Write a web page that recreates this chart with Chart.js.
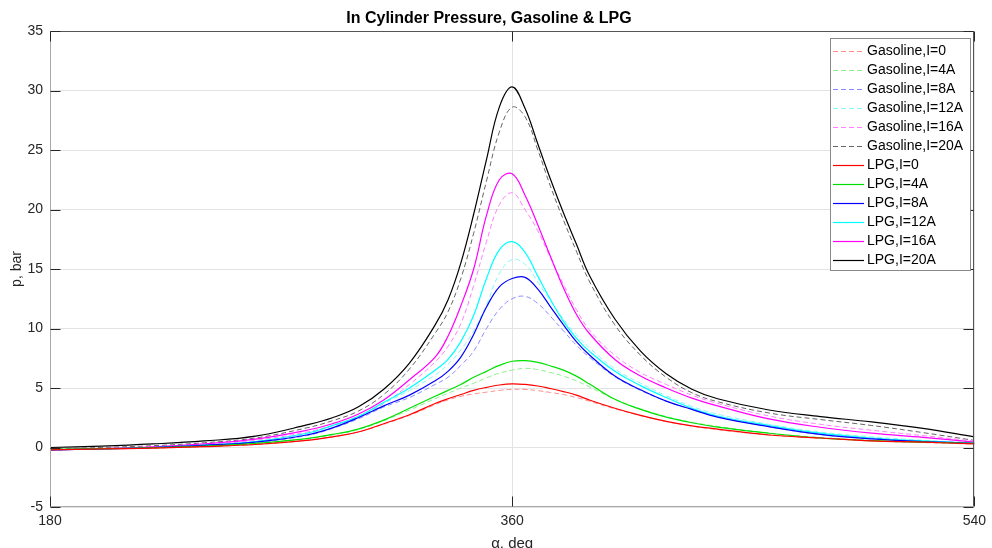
<!DOCTYPE html>
<html><head><meta charset="utf-8">
<script src="https://cdn.jsdelivr.net/npm/chart.js@4/dist/chart.umd.min.js"></script>
<style>html,body{margin:0;padding:0;background:#fff}#wrap{width:992px;height:548px;position:relative}</style>
</head><body><div id="wrap"><canvas id="c"></canvas></div>
<script>
const chartTitle = 'In Cylinder Pressure, Gasoline & LPG';
const xTitle = 'α, deg';
const yTitle = 'p, bar';
const angles = [180,200,220,240,260,280,290,300,310,320,330,335,340,345,350,355,360,365,370,375,380,385,390,400,410,420,430,440,460,480,500,520,540];
const xTicks = [180, 360, 540];
const yTicksRange = [-5, 35, 5];

const gas0  = [-0.2,-0.12,-0.05,0.08,0.25,0.6,0.9,1.3,1.95,2.7,3.6,4.0,4.3,4.5,4.65,4.8,4.88,4.88,4.78,4.62,4.45,4.2,3.9,3.25,2.68,2.18,1.8,1.5,1.05,0.8,0.55,0.42,0.28];
const gas4  = [-0.15,-0.1,-0.02,0.1,0.3,0.72,1.05,1.5,2.25,3.15,4.1,4.55,5.0,5.4,5.85,6.25,6.5,6.65,6.55,6.3,6.0,5.6,5.1,4.05,3.25,2.6,2.12,1.78,1.2,0.85,0.6,0.45,0.3];
const gas8  = [-0.2,-0.12,0.0,0.15,0.42,1.0,1.6,2.4,3.4,4.2,5.3,5.9,6.9,8.1,10.0,11.6,12.5,12.7,12.1,11.0,9.8,8.6,7.6,5.95,4.8,3.9,3.2,2.6,1.75,1.1,0.75,0.52,0.35];
const gas12 = [-0.2,-0.12,0.0,0.2,0.5,1.15,1.8,2.55,3.7,4.8,6.1,7.0,8.2,9.8,12.0,14.6,15.8,15.4,13.9,12.3,10.8,9.5,8.4,6.6,5.4,4.35,3.45,2.8,1.95,1.3,0.9,0.6,0.4];
const gas16 = [-0.2,-0.1,0.05,0.25,0.6,1.3,1.85,2.6,3.7,5.3,7.2,8.5,10.4,13.6,17.3,20.4,21.4,20.0,18.2,15.9,13.7,11.6,9.9,7.75,6.3,5.3,4.4,3.7,2.65,1.95,1.45,1.0,0.55];
const gas20 = [-0.15,0.0,0.15,0.4,0.8,1.65,2.25,3.05,4.45,6.6,9.6,11.4,14.2,18.0,22.4,26.5,28.6,27.8,25.0,21.9,19.1,16.5,14.0,10.3,7.75,5.9,4.6,3.85,2.9,2.35,1.85,1.25,0.6];
const lpg0  = [-0.2,-0.12,-0.05,0.08,0.25,0.6,0.9,1.3,2.0,2.75,3.7,4.1,4.45,4.8,5.05,5.25,5.35,5.3,5.17,4.95,4.7,4.4,4.0,3.3,2.7,2.2,1.82,1.55,1.05,0.8,0.55,0.45,0.3];
const lpg4  = [-0.15,-0.1,-0.02,0.12,0.35,0.75,1.1,1.55,2.3,3.3,4.3,4.8,5.3,5.9,6.4,6.9,7.25,7.3,7.15,6.85,6.5,6.0,5.35,4.05,3.2,2.55,2.08,1.72,1.2,0.8,0.58,0.45,0.35];
const lpg8  = [-0.2,-0.12,0.0,0.18,0.45,1.05,1.65,2.5,3.5,4.4,5.6,6.4,7.6,9.5,11.8,13.5,14.2,14.3,13.3,11.8,10.3,8.9,7.8,6.0,4.85,3.9,3.2,2.55,1.75,1.1,0.72,0.5,0.35];
const lpg12 = [-0.2,-0.12,0.0,0.2,0.5,1.2,1.85,2.6,3.8,5.0,6.5,7.4,8.9,11.1,14.2,16.6,17.3,16.4,14.4,12.4,10.6,9.2,8.1,6.4,5.2,4.2,3.3,2.65,1.85,1.2,0.8,0.55,0.35];
const lpg16 = [-0.2,-0.1,0.05,0.3,0.7,1.45,2.0,2.8,4.0,5.7,7.6,9.35,11.9,15.0,19.5,22.5,23.0,21.2,18.7,16.0,13.4,11.2,9.6,7.4,6.0,5.0,4.15,3.5,2.4,1.7,1.2,0.85,0.45];
const lpg20 = [0.0,0.12,0.3,0.55,0.95,1.9,2.5,3.4,4.9,7.1,10.3,12.4,15.5,19.6,24.2,28.6,30.3,28.5,25.5,22.5,19.7,17.1,14.5,10.8,8.1,6.2,4.9,4.1,3.15,2.6,2.15,1.6,0.9];

const seriesLabels = ['Gasoline,I=0','Gasoline,I=4A','Gasoline,I=8A','Gasoline,I=12A','Gasoline,I=16A','Gasoline,I=20A','LPG,I=0','LPG,I=4A','LPG,I=8A','LPG,I=12A','LPG,I=16A','LPG,I=20A'];
const seriesValues = [gas0,gas4,gas8,gas12,gas16,gas20,lpg0,lpg4,lpg8,lpg12,lpg16,lpg20];
const seriesColors = ['#ff8c8c','#8cf08c','#8c8cff','#8cf5f5','#ff80ff','#666666','#ff0000','#00e000','#0000ff','#00ffff','#ff00ff','#000000'];
const seriesDashed = [true,true,true,true,true,true,false,false,false,false,false,false];

const FONT = 'Liberation Sans, Arial, sans-serif';

const datasets = seriesLabels.map((lab, k) => ({
  label: lab,
  data: angles.map((a, i) => ({x: a, y: seriesValues[k][i]})),
  borderColor: seriesColors[k],
  backgroundColor: seriesColors[k],
  borderWidth: seriesDashed[k] ? 1 : 1.2,
  borderDash: seriesDashed[k] ? [5, 3] : [],
  pointRadius: 0,
  fill: false,
  tension: 0.4,
  order: seriesDashed[k] ? 1 : 0
}));

const frame = {
  id: 'frame',
  afterDatasetsDraw(chart) {
    const {ctx, chartArea: {left, right, top, bottom}, scales: {x, y}} = chart;
    ctx.save();
    ctx.lineWidth = 1;
    const L = Math.round(left) + 0.5, R = Math.round(right) - 0.5, T = Math.round(top) + 0.5, B = Math.round(bottom) - 0.5;
    ctx.strokeStyle = '#555555';
    ctx.beginPath(); ctx.moveTo(L, T); ctx.lineTo(R, T); ctx.lineTo(R, B); ctx.stroke();
    ctx.strokeStyle = '#a8a8a8';
    ctx.beginPath(); ctx.moveTo(L, T); ctx.lineTo(L, B); ctx.lineTo(R, B); ctx.stroke();
    ctx.strokeStyle = '#262626';
    ctx.beginPath();
    y.ticks.forEach(t => {
      const py = Math.round(y.getPixelForValue(t.value)) + 0.5;
      ctx.moveTo(L, py); ctx.lineTo(L + 10, py);
      ctx.moveTo(R, py); ctx.lineTo(R - 10, py);
    });
    x.ticks.forEach(t => {
      const px = Math.round(x.getPixelForValue(t.value)) + 0.5;
      ctx.moveTo(px, B); ctx.lineTo(px, B - 10);
      ctx.moveTo(px, T); ctx.lineTo(px, T + 10);
    });
    ctx.stroke();
    ctx.restore();
  }
};

const boxLegend = {
  id: 'boxLegend',
  afterDraw(chart) {
    const ctx = chart.ctx;
    const x0 = 830.5, y0 = 38.5, w = 140, h = 232;
    ctx.save();
    ctx.fillStyle = '#ffffff';
    ctx.fillRect(x0, y0, w, h);
    ctx.strokeStyle = '#8a8a8a';
    ctx.lineWidth = 1;
    ctx.strokeRect(x0, y0, w, h);
    ctx.font = '14px ' + FONT;
    ctx.textBaseline = 'middle';
    ctx.textAlign = 'left';
    chart.data.datasets.forEach((d, i) => {
      const yy = Math.round(50.7 + i * 19.03) + 0.5;
      ctx.strokeStyle = d.borderColor;
      ctx.lineWidth = d.borderWidth;
      ctx.setLineDash(d.borderDash || []);
      ctx.beginPath(); ctx.moveTo(833, yy); ctx.lineTo(864, yy); ctx.stroke();
      ctx.setLineDash([]);
      ctx.fillStyle = '#000000';
      ctx.fillText(d.label, 867, yy);
    });
    ctx.restore();
  }
};

new Chart(document.getElementById('c'), {
  type: 'line',
  data: {datasets},
  plugins: [frame, boxLegend],
  options: {
    responsive: true,
    maintainAspectRatio: false,
    animation: false,
    layout: {padding: {left: 0, right: 14, top: 0, bottom: 0}},
    plugins: {
      legend: {display: false},
      tooltip: {enabled: false},
      title: {
        display: true, text: chartTitle, color: '#000000',
        font: {family: FONT, size: 16, weight: 'bold', lineHeight: 1.2},
        padding: {top: 9, bottom: 2.8}
      }
    },
    scales: {
      x: {
        type: 'linear', min: xTicks[0], max: xTicks[xTicks.length - 1],
        afterFit(s) { s.height = 41; },
        afterBuildTicks(s) { s.ticks = xTicks.map(v => ({value: v})); },
        ticks: {color: '#262626', font: {family: FONT, size: 14}, padding: 6, maxRotation: 0},
        grid: {color: '#e3e3e3', drawTicks: false},
        border: {display: false},
        title: {display: true, text: xTitle, color: '#262626', font: {family: FONT, size: 15, lineHeight: 0.6}, padding: {top: 0, bottom: 0}}
      },
      y: {
        type: 'linear', min: yTicksRange[0], max: yTicksRange[1],
        afterFit(s) { s.width = 50; },
        ticks: {stepSize: yTicksRange[2], color: '#262626', font: {family: FONT, size: 14}, padding: 7},
        grid: {color: '#e3e3e3', drawTicks: false},
        border: {display: false},
        title: {display: true, text: yTitle, color: '#262626', font: {family: FONT, size: 14}, padding: {top: 9, bottom: 0}}
      }
    }
  }
});
</script></body></html>
